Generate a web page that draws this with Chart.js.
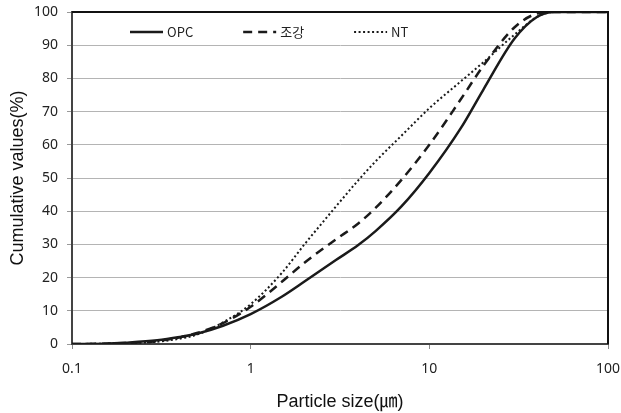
<!DOCTYPE html>
<html>
<head>
<meta charset="utf-8">
<script src="https://cdn.jsdelivr.net/npm/chart.js@4"></script>
<style>
  html, body { margin: 0; padding: 0; background: #fff; }
  #wrap { width: 621px; height: 413px; position: relative; }
</style>
</head>
<body>
<div id="wrap"><canvas id="chart"></canvas></div>
<script>
// particle size (um) and cumulative values (%)
const sizes = [0.1, 0.15, 0.2, 0.3, 0.4, 0.5, 0.7, 1, 1.5, 2, 3, 4, 5, 7, 10, 15, 20, 30, 40, 50, 70, 100];
const opcValue = [0, 0.1, 0.4, 1.1, 2.1, 3.1, 5.5, 9, 14.3, 18.8, 25.3, 29.8, 34, 41.5, 51.5, 65, 76.5, 92, 98.5, 100, 100, 100];
const earlyValue = [0, 0.1, 0.3, 0.9, 2, 3.3, 6.3, 11.2, 18.8, 24.5, 31.5, 36.3, 41, 49.5, 60, 73.7, 83.7, 95.4, 99.5, 100, 100, 100];
const ntValue = [0, 0.1, 0.2, 0.7, 1.6, 2.8, 6.5, 12, 21.5, 30, 41.4, 49.3, 55, 62.8, 71, 79.1, 84.8, 93.2, 98.5, 100, 100, 100];

const seriesNames = ['OPC', '조강', 'NT'];
const xTicks = [0.1, 1, 10, 100];
const yTicks = [0, 10, 20, 30, 40, 50, 60, 70, 80, 90, 100];

const toPoints = ys => sizes.map((x, i) => ({ x: x, y: ys[i] }));

const frame = {
  id: 'frame',
  afterDatasetsDraw(chart) {
    const { ctx, chartArea: a } = chart;
    ctx.save();
    ctx.strokeStyle = '#111';
    ctx.lineWidth = 2;
    ctx.beginPath();
    ctx.moveTo(a.left, a.top);
    ctx.lineTo(a.right, a.top);
    ctx.lineTo(a.right, a.bottom);
    ctx.stroke();
    ctx.restore();
  }
};

const innerLegend = {
  id: 'innerLegend',
  afterDraw(chart) {
    const ctx = chart.ctx;
    let x = 130;
    const y = 32;
    ctx.save();
    ctx.font = '13px "Noto Sans CJK KR", "Noto Sans", sans-serif';
    ctx.textBaseline = 'middle';
    ctx.fillStyle = '#222';
    chart.data.datasets.forEach(ds => {
      ctx.strokeStyle = ds.borderColor;
      ctx.lineWidth = ds.borderWidth;
      ctx.setLineDash(ds.borderDash || []);
      ctx.beginPath();
      ctx.moveTo(x, y);
      ctx.lineTo(x + 33, y);
      ctx.stroke();
      ctx.setLineDash([]);
      x += 37;
      ctx.fillText(ds.label, x, y);
      x += ctx.measureText(ds.label).width + 50;
    });
    ctx.restore();
  }
};

new Chart(document.querySelector('#chart'), {
  type: 'line',
  data: {
    datasets: [
      {
        label: seriesNames[0],
        data: toPoints(opcValue),
        borderColor: '#1a1a1a',
        borderWidth: 2.5
      },
      {
        label: seriesNames[1],
        data: toPoints(earlyValue),
        borderColor: '#1a1a1a',
        borderWidth: 2.5,
        borderDash: [9, 6]
      },
      {
        label: seriesNames[2],
        data: toPoints(ntValue),
        borderColor: '#1a1a1a',
        borderWidth: 2,
        borderDash: [2, 2.5]
      }
    ]
  },
  options: {
    responsive: true,
    maintainAspectRatio: false,
    animation: false,
    elements: {
      point: { radius: 0 },
      line: { cubicInterpolationMode: 'monotone' }
    },
    layout: { padding: { top: 12, right: 13, left: 0, bottom: 0 } },
    plugins: {
      legend: { display: false },
      tooltip: { enabled: false }
    },
    scales: {
      x: {
        type: 'logarithmic',
        min: 0.1,
        max: 100,
        afterBuildTicks: scale => { scale.ticks = xTicks.map(v => ({ value: v })); },
        afterFit: scale => {
          scale.height = 69;
          scale.paddingLeft = 0;
          scale.paddingRight = 0;
        },
        ticks: {
          callback: value => String(value),
          color: '#222',
          padding: 12,
          maxRotation: 0,
          font: { size: 14, family: '"Noto Sans", sans-serif' }
        },
        grid: { drawOnChartArea: false, tickLength: 5, tickColor: '#888' },
        border: { color: '#444', width: 2 },
        title: {
          display: true,
          text: 'Particle size(㎛)',
          color: '#111',
          padding: { top: 6, bottom: 0 },
          font: { size: 18, family: '"Liberation Sans", "Noto Sans CJK KR", sans-serif' }
        }
      },
      y: {
        min: 0,
        max: 100,
        afterBuildTicks: scale => { scale.ticks = yTicks.map(v => ({ value: v })); },
        afterFit: scale => {
          scale.width = 72;
          scale.paddingTop = 0;
          scale.paddingBottom = 0;
        },
        ticks: {
          color: '#222',
          padding: 9,
          font: { size: 14, family: '"Noto Sans", sans-serif' }
        },
        grid: { color: '#b4b4b4', lineWidth: 1, tickLength: 5, tickColor: '#999' },
        border: { color: '#444', width: 2 },
        title: {
          display: true,
          text: 'Cumulative values(%)',
          color: '#111',
          padding: { top: 7, bottom: 0 },
          font: { size: 18, family: '"Liberation Sans", sans-serif' }
        }
      }
    }
  },
  plugins: [frame, innerLegend]
});
</script>
</body>
</html>
